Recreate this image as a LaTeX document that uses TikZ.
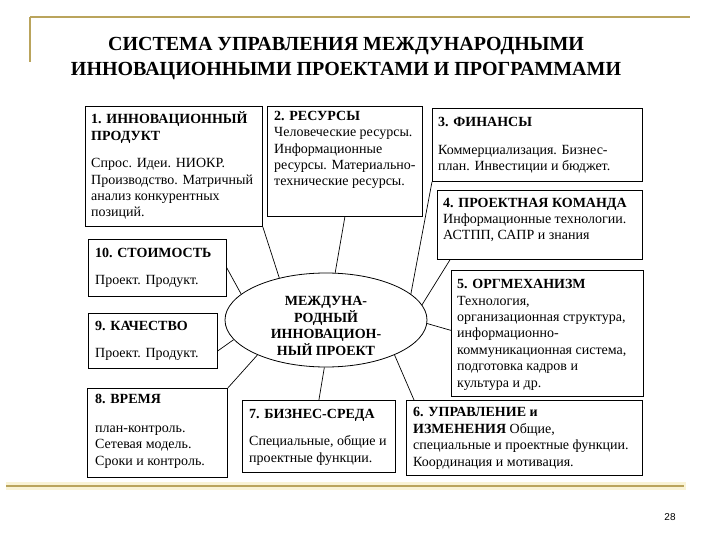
\documentclass[tikz,border=0pt]{standalone}
\usepackage{fontspec}
\setmainfont{Liberation Serif}
\setsansfont{Liberation Sans}
\usetikzlibrary{shapes.geometric,calc}
\definecolor{gold}{RGB}{186,164,92}
\definecolor{paleg}{RGB}{249,243,214}
\begin{document}
\begin{tikzpicture}[x=1pt,y=-1pt,
  boxst/.style={draw, line width=0.8pt, rectangle, inner sep=0, anchor=north west},
  txt/.style={anchor=base west, align=left, inner sep=0, font=\fontsize{14}{16.4}\selectfont},
  conn/.style={line width=0.7pt}]
\useasboundingbox (0,0) rectangle (720,540);
% decorations
\draw[gold, line width=2pt] (30,17) -- (690,17);
\draw[gold, line width=2pt] (30,17) -- (30,62);
\draw[paleg, line width=8pt] (6,486) -- (686,486);
\draw[gold, line width=2.6pt] (6,486) -- (684,486);
\node[font=\sffamily\fontsize{10}{12}\selectfont, inner sep=0] (pg) at (670,517) {28};
% title
\node[font=\bfseries\fontsize{20}{25}\selectfont, align=center, anchor=base] (title) at (346,76)
  {СИСТЕМА УПРАВЛЕНИЯ МЕЖДУНАРОДНЫМИ\\ИННОВАЦИОННЫМИ ПРОЕКТАМИ И ПРОГРАММАМИ};
% boxes
\node[boxst, minimum width=177pt, minimum height=120pt] (b1) at (85,106) {};
\node[boxst, minimum width=155pt, minimum height=110pt] (b2) at (267,106) {};
\node[boxst, minimum width=210pt, minimum height=73pt] (b3) at (432,108) {};
\node[boxst, minimum width=205pt, minimum height=69pt] (b4) at (437,190) {};
\node[boxst, minimum width=138pt, minimum height=57pt] (b10) at (88,239) {};
\node[boxst, minimum width=129pt, minimum height=55pt] (b9) at (88,313) {};
\node[boxst, minimum width=192pt, minimum height=126pt] (b5) at (451,270) {};
\node[boxst, minimum width=140pt, minimum height=89pt] (b8) at (87,388) {};
\node[boxst, minimum width=153pt, minimum height=72pt] (b7) at (242,400) {};
\node[boxst, minimum width=236pt, minimum height=75pt] (b6) at (406,400) {};
\node[draw, ellipse, line width=0.8pt, minimum width=202pt, minimum height=94pt, inner sep=0] (ell) at (326,320) {};
% texts (anchor = baseline of the last line)
\node[txt] (t1) at (91,217) {\textbf{1. ИННОВАЦИОННЫЙ}\\\textbf{ПРОДУКТ}\\[11pt]Спрос. Идеи. НИОКР.\\Производство. Матричный\\анализ конкурентных\\позиций.};
\node[txt] (t2) at (274,186) {\textbf{2. РЕСУРСЫ}\\Человеческие ресурсы.\\Информационные\\ресурсы. Материально-\\технические ресурсы.};
\node[txt] (t3) at (438,171) {\textbf{3. ФИНАНСЫ}\\[12pt]Коммерциализация. Бизнес-\\план. Инвестиции и бюджет.};
\node[txt] (t4) at (443,240) {\textbf{4. ПРОЕКТНАЯ КОМАНДА}\\Информационные технологии.\\АСТПП, САПР и знания};
\node[txt] (t10) at (95,284) {\textbf{10. СТОИМОСТЬ}\\[10.5pt]Проект. Продукт.};
\node[txt] (t9) at (95,357) {\textbf{9. КАЧЕСТВО}\\[10.5pt]Проект. Продукт.};
\node[txt] (t5) at (457,387) {\textbf{5. ОРГМЕХАНИЗМ}\\Технология,\\организационная структура,\\информационно-\\коммуникационная система,\\подготовка кадров и\\культура и др.};
\node[txt] (t8) at (95,465) {\textbf{8. ВРЕМЯ}\\[12pt]план-контроль.\\Сетевая модель.\\Сроки и контроль.};
\node[txt] (t7) at (249,462) {\textbf{7. БИЗНЕС-СРЕДА}\\[10.5pt]Специальные, общие и\\проектные функции.};
\node[txt] (t6) at (413,466) {\textbf{6. УПРАВЛЕНИЕ и}\\\textbf{ИЗМЕНЕНИЯ} Общие,\\специальные и проектные функции.\\Координация и мотивация.};
\node[txt, align=center, anchor=base] (te) at (326,355) {\textbf{МЕЖДУНА-}\\\textbf{РОДНЫЙ}\\\textbf{ИННОВАЦИОН-}\\\textbf{НЫЙ ПРОЕКТ}};
% connectors
\draw[conn] (b1.south east) -- (ell.138);
\draw[conn] (b2.south) -- (ell.79);
\draw[conn] (b3.south west) -- (ell.17);
\draw[conn] ($(b4.south west)+(13,0)$) -- (ell.9);
\draw[conn] ($(b5.west)+(0,-3)$) -- (ell.-2);
\draw[conn] ($(b6.north west)+(8,0)$) -- (ell.-27);
\draw[conn] (b7.north) -- (ell.-92);
\draw[conn] (b8.north east) -- (ell.207);
\draw[conn] ($(b9.east)+(0,10)$) -- (ell.192);
\draw[conn] (b10.east) -- (ell.163);
\end{tikzpicture}
\end{document}
